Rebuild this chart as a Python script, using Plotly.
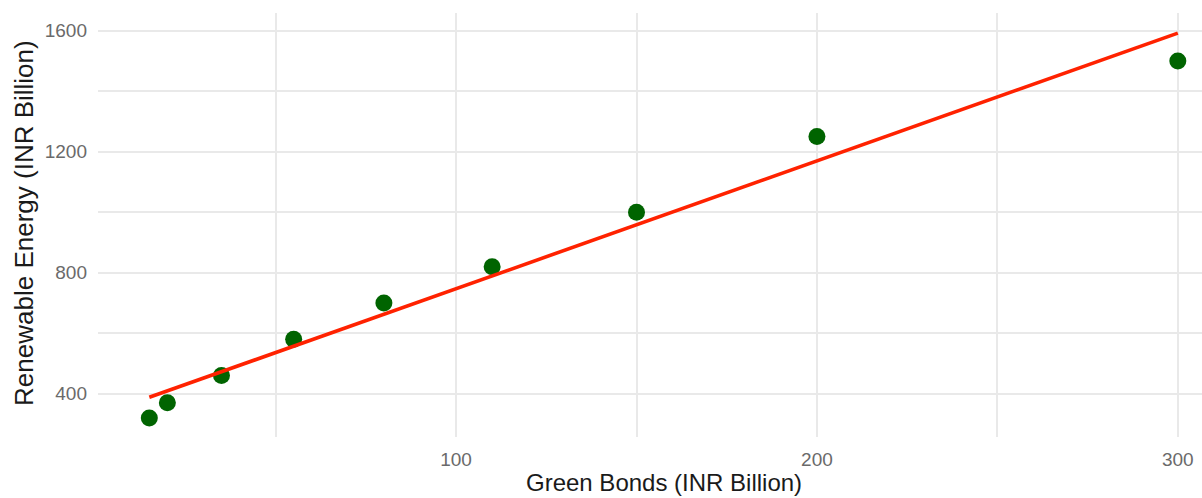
import numpy as np
import plotly.graph_objects as go

# Green bond issuance vs. renewable energy investment (INR Billion)
green_bonds = [15, 20, 35, 55, 80, 110, 150, 200, 300]
renewable_energy = [320, 370, 460, 580, 700, 820, 1000, 1250, 1500]

x_ticks = [100, 200, 300]
y_ticks = [400, 800, 1200, 1600]

# Ordinary least-squares trend line over the observed range
slope, intercept = np.polyfit(green_bonds, renewable_energy, 1)
fit_x = [min(green_bonds), max(green_bonds)]
fit_y = [slope * v + intercept for v in fit_x]

font_family = "Liberation Sans, Arial, Helvetica, sans-serif"
grid_color = "#e9e9e9"

fig = go.Figure()

fig.add_trace(go.Scatter(
    x=green_bonds, y=renewable_energy, mode="markers",
    marker=dict(color="#006400", size=17, line=dict(width=0)),
    cliponaxis=False, showlegend=False, hoverinfo="x+y",
))

fig.add_trace(go.Scatter(
    x=fit_x, y=fit_y, mode="lines",
    line=dict(color="#ff2200", width=3.6),
    showlegend=False, hoverinfo="skip",
))

fig.update_layout(
    width=1202, height=498,
    margin=dict(l=98, r=0, t=13, b=61, pad=0),
    paper_bgcolor="white", plot_bgcolor="white",
    font=dict(family=font_family),
    annotations=[
        dict(text="Green Bonds (INR Billion)", xref="paper", yref="paper",
             x=0.5127, y=-0.108, xanchor="center", yanchor="middle",
             showarrow=False, font=dict(size=24, color="#1a1a1a")),
        dict(text="Renewable Energy (INR Billion)", xref="paper", yref="paper",
             x=-0.067, y=0.505, xanchor="center", yanchor="middle", textangle=-90,
             showarrow=False, font=dict(size=26, color="#1a1a1a")),
    ],
)

fig.update_xaxes(
    range=[0.78, 306.7], tickvals=x_ticks, ticktext=[str(v) for v in x_ticks],
    showgrid=True, gridcolor=grid_color, gridwidth=1.8,
    minor=dict(tickvals=[50, 150, 250], showgrid=True, gridcolor=grid_color, gridwidth=1.5),
    zeroline=False, showline=False, ticks="",
    tickfont=dict(size=19, color="#6a6a6a"), ticklabelstandoff=9,
)

fig.update_yaxes(
    range=[257, 1658.6], tickvals=y_ticks, ticktext=[str(v) for v in y_ticks],
    showgrid=True, gridcolor=grid_color, gridwidth=1.8,
    minor=dict(tickvals=[600, 1000, 1400], showgrid=True, gridcolor=grid_color, gridwidth=1.5),
    zeroline=False, showline=False, ticks="",
    tickfont=dict(size=19, color="#6a6a6a"), ticklabelstandoff=10,
)

fig.write_html("out.html")
